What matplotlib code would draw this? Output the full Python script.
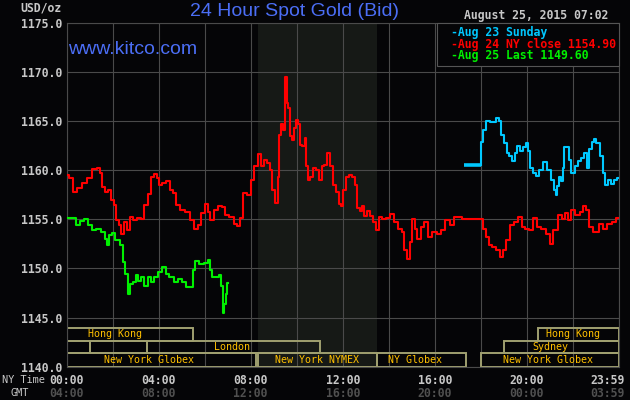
import numpy as np
import matplotlib.pyplot as plt
from matplotlib.patches import Rectangle

## Aug 24 (NY close 1154.90) - hours since 00:00 NY time
aug24_hours = [0.0, 0.2, 0.37, 0.58, 0.8, 1.02, 1.23, 1.42, 1.52, 1.59, 1.74, 1.88, 1.99,
               2.1, 2.2, 2.32, 2.43, 2.56, 2.68, 2.82, 2.96, 3.18, 3.3, 3.47, 3.62, 3.76,
               3.87, 3.97, 4.05, 4.26, 4.41, 4.55, 4.7, 4.84, 5.06, 5.27, 5.42, 5.64, 5.78,
               5.93, 6.07, 6.18, 6.33, 6.48, 6.65, 6.84, 6.95, 7.17, 7.37, 7.48, 7.6, 7.74,
               7.93, 8.09, 8.23, 8.38, 8.5, 8.64, 8.79, 8.89, 8.99, 9.13, 9.22, 9.28, 9.37,
               9.46, 9.55, 9.58, 9.67, 9.73, 9.82, 9.91, 10.01, 10.1, 10.2, 10.3, 10.39,
               10.45, 10.53, 10.63, 10.78, 10.92, 11.03, 11.15, 11.26, 11.39, 11.5, 11.65,
               11.79, 11.87, 11.95, 12.08, 12.2, 12.34, 12.49, 12.56, 12.68, 12.78, 12.88,
               12.99, 13.1, 13.25, 13.39, 13.53, 13.64, 13.79, 13.97, 14.12, 14.29, 14.5,
               14.61, 14.72, 14.84, 14.97, 15.07, 15.18, 15.3, 15.47, 15.6, 15.77, 15.99,
               16.21, 16.35, 16.56, 16.75, 16.93, 17.07, 17.29, 17.65, 18.01, 18.16, 18.3,
               18.4, 18.59, 18.74, 18.89, 19.03, 19.17, 19.35, 19.52, 19.71, 19.86, 20.0,
               20.17, 20.35, 20.5, 20.7, 20.92, 21.1, 21.2, 21.47, 21.62, 21.73, 21.86,
               21.98, 22.2, 22.39, 22.52, 22.64, 22.78, 23.0, 23.22, 23.36, 23.58, 23.8, 23.97]
aug24_price = [1159.5, 1159.2, 1157.8, 1158.15, 1158.7, 1159.2, 1160.1, 1160.2, 1159.7, 1158.3,
               1157.8, 1158.0, 1157.0, 1156.45, 1154.9, 1154.4, 1153.5, 1154.7, 1153.9, 1155.25,
               1154.9, 1155.1, 1155.0, 1156.45, 1157.6, 1159.35, 1159.6, 1159.2, 1158.5, 1158.7,
               1158.85, 1158.0, 1157.65, 1156.45, 1155.9, 1155.75, 1154.9, 1154.05, 1154.4,
               1155.6, 1156.6, 1155.75, 1154.9, 1155.9, 1156.35, 1156.25, 1155.4, 1155.2,
               1154.55, 1154.3, 1155.1, 1157.65, 1157.5, 1159.0, 1160.4, 1161.6, 1160.4,
               1161.05, 1160.7, 1160.0, 1158.0, 1156.7, 1159.35, 1163.6, 1164.65, 1164.1,
               1169.5, 1166.85, 1166.35, 1163.45, 1163.1, 1164.3, 1165.15, 1164.65, 1162.6,
               1162.45, 1163.3, 1160.4, 1159.0, 1159.3, 1160.2, 1160.0, 1159.0, 1160.4,
               1160.55, 1161.75, 1160.4, 1158.5, 1157.8, 1156.6, 1156.3, 1158.0, 1159.35,
               1159.5, 1159.35, 1158.5, 1156.1, 1155.8, 1156.3, 1155.3, 1155.8, 1155.3,
               1154.75, 1153.9, 1155.25, 1155.0, 1155.1, 1155.5, 1154.75, 1154.05, 1153.7,
               1151.85, 1151.0, 1152.7, 1155.0, 1154.05, 1153.0, 1154.2, 1154.75, 1153.2,
               1153.7, 1153.5, 1153.9, 1154.9, 1154.4, 1155.2, 1155.2, 1155.0, 1155.0, 1155.0,
               1154.05, 1153.2, 1152.35, 1152.2, 1151.85, 1151.2, 1151.85, 1152.85, 1154.4,
               1154.75, 1155.25, 1154.2, 1154.05, 1153.9, 1155.1, 1154.2, 1154.05, 1153.55,
               1152.5, 1153.9, 1155.4, 1155.05, 1155.6, 1154.9, 1155.9, 1155.4, 1155.7,
               1156.35, 1155.9, 1154.2, 1153.7, 1154.55, 1154.05, 1154.5, 1154.7, 1155.1]

## Aug 25 (last 1149.60)
aug25_hours = [0.0, 0.2, 0.35, 0.47, 0.66, 0.84, 1.02, 1.17, 1.38, 1.6, 1.71, 1.81, 1.91,
               2.03, 2.15, 2.3, 2.39, 2.49, 2.6, 2.72, 2.82, 2.96, 3.07, 3.18, 3.3, 3.45,
               3.6, 3.74, 3.9, 4.05, 4.24, 4.37, 4.55, 4.77, 4.94, 5.13, 5.27, 5.46, 5.56,
               5.63, 5.85, 6.07, 6.21, 6.28, 6.39, 6.53, 6.68, 6.76, 6.82, 6.89, 6.96, 7.02]
aug25_price = [1155.1, 1155.1, 1155.1, 1154.4, 1154.85, 1155.0, 1154.4, 1153.95, 1154.05,
               1153.7, 1153.0, 1152.35, 1153.4, 1153.6, 1152.9, 1152.9, 1152.35, 1150.65,
               1149.45, 1147.4, 1148.4, 1148.6, 1149.3, 1148.75, 1149.1, 1148.25, 1149.1,
               1148.6, 1149.1, 1149.6, 1150.1, 1149.45, 1149.1, 1148.6, 1148.95, 1148.6,
               1148.1, 1148.1, 1149.8, 1150.8, 1150.5, 1150.6, 1150.9, 1149.8, 1149.1,
               1149.1, 1149.3, 1148.25, 1145.5, 1146.35, 1147.4, 1148.5]

## Aug 23 (Sunday)
aug23_open_hours = [17.25, 18.0]
aug23_open_price = [1160.5, 1160.5]
aug23_hours = [18.0, 18.05, 18.16, 18.3, 18.45, 18.59, 18.73, 18.84, 18.95, 19.07, 19.17,
               19.31, 19.42, 19.53, 19.63, 19.78, 19.9, 19.99, 20.1, 20.2, 20.3, 20.45,
               20.6, 20.8, 20.97, 21.12, 21.2, 21.29, 21.33, 21.44, 21.52, 21.58, 21.67,
               21.77, 21.87, 22.0, 22.14, 22.28, 22.43, 22.54, 22.64, 22.78, 22.88, 22.95,
               23.07, 23.26, 23.36, 23.43, 23.58, 23.72, 23.87, 23.97]
aug23_price = [1160.5, 1162.9, 1164.1, 1165.0, 1164.85, 1164.9, 1165.3, 1165.0, 1163.6,
               1162.75, 1161.75, 1161.4, 1160.9, 1161.75, 1162.5, 1161.9, 1162.4, 1162.75,
               1161.9, 1160.2, 1159.7, 1159.4, 1160.0, 1160.8, 1160.0, 1159.0, 1158.0,
               1157.5, 1158.35, 1159.35, 1158.85, 1160.2, 1162.4, 1162.4, 1161.05, 1159.7,
               1160.4, 1160.9, 1161.2, 1161.75, 1160.2, 1162.1, 1162.9, 1163.2, 1162.75,
               1161.4, 1159.7, 1158.5, 1159.0, 1158.6, 1159.0, 1159.15]

legend_labels = ['-Aug 23 Sunday', '-Aug 24 NY close 1154.90', '-Aug 25 Last 1149.60']

## trading sessions (row 0 = bottom)
sess_name = ['New York Globex', 'New York NYMEX', 'NY Globex', 'New York Globex',
             '', '', 'London', 'Sydney', 'Hong Kong', 'Hong Kong']
sess_row = [0, 0, 0, 0, 1, 1, 1, 1, 2, 2]
sess_start = [0.0, 8.33, 13.5, 18.0, 0.0, 1.0, 3.5, 19.0, 0.0, 20.5]
sess_end = [8.25, 13.5, 17.35, 24.0, 1.0, 3.5, 11.0, 24.0, 5.5, 24.0]
sess_label_at = [3.6, 10.9, 15.15, 20.9, 0, 0, 7.2, 21.0, 2.1, 22.0]
row_edges = [1140.0, 1141.35, 1142.62, 1143.94]

nymex_start, nymex_end = 8.33, 13.5

time_ticks = [0, 4, 8, 12, 16, 20, 23.5]
ny_labels = ['00:00', '04:00', '08:00', '12:00', '16:00', '20:00', '23:59']
gmt_labels = ['04:00', '08:00', '12:00', '16:00', '20:00', '00:00', '03:59']

## colours / fonts
bg = '#050507'
grid_c = '#4a4a4a'
light = '#c8c8c8'
blue = '#4b6ef5'
mono = 'DejaVu Sans Mono'

fig = plt.figure(figsize=(6.3, 4), dpi=100, facecolor=bg)
ax = fig.add_axes([66.5 / 630, 33.3 / 400, 552.5 / 630, 344 / 400], facecolor=bg)

ax.axvspan(nymex_start, nymex_end, color='#161916', zorder=0, lw=0)

ax.set_xlim(0, 24)
ax.set_ylim(1140, 1175)
ax.set_xticks(np.arange(0, 25, 2))
ax.set_xticklabels([])
yt = np.arange(1140, 1176, 5)
ax.set_yticks(yt)
ax.set_yticklabels([f'{v:.1f}' for v in yt], family=mono, weight='bold',
                   size=8.3, color=light)
ax.tick_params(length=0, pad=3.2)
ax.grid(color=grid_c, lw=0.8, zorder=1)
ax.set_axisbelow(True)
for sp in ax.spines.values():
    sp.set_color(grid_c)
    sp.set_linewidth(0.8)

# sessions
for name, row, s, e, at in zip(sess_name, sess_row, sess_start, sess_end, sess_label_at):
    y0, y1 = row_edges[row], row_edges[row + 1]
    ax.add_patch(Rectangle((s, y0), e - s, y1 - y0, fill=False,
                           edgecolor='#a0a070', lw=1.4, zorder=2))
    if name:
        ax.text(at, (y0 + y1) / 2, name, ha='center', va='center',
                family=mono, size=7.2, color='#ffc000', zorder=3)

l23, = ax.plot(aug23_hours, aug23_price, color='#00c8ff', lw=1.5, zorder=4,
               drawstyle='steps-mid')
ax.plot(aug23_open_hours, aug23_open_price, color='#00c8ff', lw=2.6, zorder=4,
        solid_capstyle='butt')
l24, = ax.plot(aug24_hours, aug24_price, color='#ff0000', lw=1.5, zorder=4,
               drawstyle='steps-mid')
l25, = ax.plot(aug25_hours, aug25_price, color='#00f000', lw=1.5, zorder=4,
               drawstyle='steps-mid')

leg = ax.legend([l23, l24, l25], legend_labels, loc='upper right',
                bbox_to_anchor=(1, 1), borderaxespad=0, fancybox=False,
                facecolor=bg, edgecolor='#555555', framealpha=1,
                prop={'family': mono, 'weight': 'bold', 'size': 8.3},
                labelcolor='linecolor', handlelength=0.9, handletextpad=0,
                labelspacing=-0.12, borderpad=0.3)
leg.get_frame().set_linewidth(0.8)
for h in leg.legend_handles:
    h.set_visible(False)

# time axis labels
for t, ny, gm in zip(time_ticks, ny_labels, gmt_labels):
    ax.annotate(ny, xy=(t, 0), xycoords=('data', 'axes fraction'),
                xytext=(0, -10), textcoords='offset points', ha='center',
                va='center', family=mono, weight='bold', size=8.3, color=light)
    ax.annotate(gm, xy=(t, 0), xycoords=('data', 'axes fraction'),
                xytext=(0, -19.3), textcoords='offset points', ha='center',
                va='center', family=mono, weight='bold', size=8.3, color='#505050')

fig.text(45 / 630, 1 - 380 / 400, 'NY Time', ha='right', va='center',
         family=mono, size=7.4, color=light)
fig.text(29 / 630, 1 - 393 / 400, 'GMT', ha='right', va='center',
         family=mono, size=7.4, color=light)

fig.text(62 / 630, 1 - 8 / 400, 'USD/oz', ha='right', va='center',
         family=mono, weight='bold', size=8.3, color=light)
fig.text(190 / 630, 1 - 12 / 400, '24 Hour Spot Gold (Bid)', ha='left', va='center',
         family='Liberation Sans', size=14, color=blue)
fig.text(608 / 630, 1 - 15 / 400, 'August 25, 2015 07:02', ha='right', va='center',
         family=mono, weight='bold', size=8.3, color=light)
fig.text(68 / 630, 1 - 49 / 400, 'www.kitco.com', ha='left', va='center',
         family='Liberation Sans', size=14, color=blue, zorder=5)

fig.savefig('out.png', dpi=100, facecolor=bg)
